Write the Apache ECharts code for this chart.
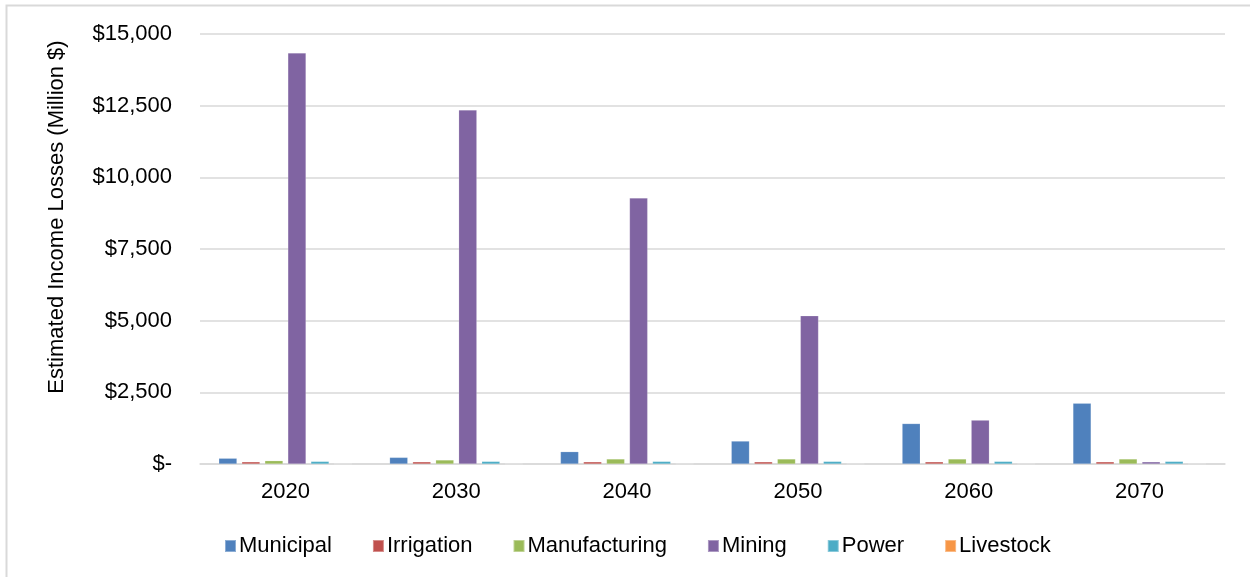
<!DOCTYPE html>
<html>
<head>
<meta charset="utf-8">
<script src="https://cdn.jsdelivr.net/npm/echarts@6/dist/echarts.min.js"></script>
<style>
  html, body { margin: 0; padding: 0; background: #ffffff; }
  #chart { width: 1250px; height: 577px; }
</style>
</head>
<body>
<div id="chart"></div>
<script>
// Decades on the category axis
const years = ['2020', '2030', '2040', '2050', '2060', '2070'];

// Estimated income losses by water-use category (million $)
const municipal     = [200, 230, 430, 800, 1410, 2120];
const irrigation    = [75, 75, 75, 75, 75, 75];
const manufacturing = [115, 140, 175, 175, 175, 175];
const mining        = [14340, 12350, 9280, 5170, 1530, 75];
const power         = [90, 90, 90, 90, 90, 90];
const livestock     = [3, 3, 3, 3, 3, 3];

// Value axis ticks
const yTicks = [0, 2500, 5000, 7500, 10000, 12500, 15000];

const yTitle = 'Estimated Income Losses (Million $)';

const seriesDefs = [
  { name: 'Municipal',     data: municipal,     color: '#4F81BD' },
  { name: 'Irrigation',    data: irrigation,    color: '#C0504D' },
  { name: 'Manufacturing', data: manufacturing, color: '#9BBB59' },
  { name: 'Mining',        data: mining,        color: '#8064A2' },
  { name: 'Power',         data: power,         color: '#4BACC6' },
  { name: 'Livestock',     data: livestock,     color: '#F79646' }
];

const font = '"Liberation Sans", Arial, sans-serif';

function money(v) {
  if (v === 0) return '$-';
  return '$' + v.toLocaleString('en-US');
}

const chart = echarts.init(document.getElementById('chart'), null, { renderer: 'canvas' });

chart.setOption({
  animation: false,
  backgroundColor: '#ffffff',
  textStyle: { fontFamily: font },
  graphic: [
    {
      // chart-area frame
      type: 'rect',
      shape: { x: 6.5, y: 5.5, width: 1300, height: 620 },
      style: { fill: 'none', stroke: '#d9d9d9', lineWidth: 2 },
      silent: true,
      z: -10
    },
    {
      // value-axis title, rotated
      type: 'text',
      x: 57,
      y: 217,
      rotation: Math.PI / 2,
      style: {
        text: yTitle,
        fontFamily: font,
        fontSize: 22,
        fill: '#000000',
        align: 'center',
        verticalAlign: 'middle'
      },
      silent: true
    }
  ],
  grid: { left: 200, right: 25, top: 34, bottom: 113, containLabel: false },
  legend: {
    top: 530,
    left: 219,
    itemWidth: 11,
    itemHeight: 12,
    itemGap: 40,
    icon: 'rect',
    textStyle: { fontFamily: font, fontSize: 22, color: '#000000', padding: [0, 0, 0, -2] },
    data: seriesDefs.map(s => s.name)
  },
  xAxis: {
    type: 'category',
    data: years,
    axisLine: { show: true, lineStyle: { color: '#d9d9d9', width: 1.5 } },
    axisTick: { show: false },
    axisLabel: { color: '#000000', fontSize: 22, fontFamily: font, margin: 17 }
  },
  yAxis: {
    type: 'value',
    min: yTicks[0],
    max: yTicks[yTicks.length - 1],
    interval: yTicks[1] - yTicks[0],
    axisLine: { show: false },
    axisTick: { show: false },
    axisLabel: { color: '#000000', fontSize: 22, fontFamily: font, margin: 28, formatter: money },
    splitLine: { lineStyle: { color: '#d9d9d9', width: 1.5 } }
  },
  series: seriesDefs.map(s => ({
    name: s.name,
    type: 'bar',
    data: s.data,
    barGap: '27%',
    barCategoryGap: '22%',
    itemStyle: { color: s.color, borderColor: 'rgba(255,255,255,0.35)', borderWidth: 0.5 }
  }))
});
</script>
</body>
</html>
